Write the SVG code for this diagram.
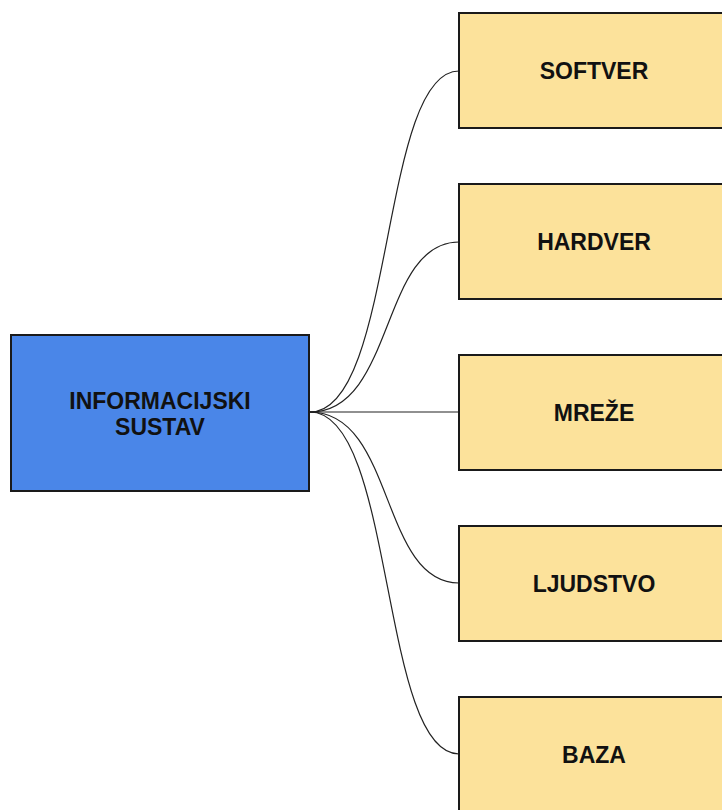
<svg xmlns="http://www.w3.org/2000/svg" width="722" height="810" viewBox="0 0 722 810">
<style>
.box{stroke:#1a1a1a;stroke-width:2}
.main{fill:#4a86e8}
.leaf{fill:#fce29b}
.t{font-family:"Liberation Sans",Arial,sans-serif;font-weight:bold;font-size:23px;fill:#111;text-anchor:middle}
.c{fill:none;stroke:#222;stroke-width:1.2}
</style>
<rect width="722" height="810" fill="#fff"/>
<g id="connectors">
<path class="c" d="M310 412 C395 412 380 71 459 71"/>
<path class="c" d="M310 412 C395 412 380 242 459 242"/>
<path class="c" d="M310 412 L459 412"/>
<path class="c" d="M310 412 C395 412 380 583 459 583"/>
<path class="c" d="M310 412 C395 412 380 754 459 754"/>
</g>
<g id="informacijski-sustav">
<rect class="box main" x="11" y="335" width="298" height="156"/>
<text class="t" x="160" y="409">INFORMACIJSKI</text>
<text class="t" x="160" y="435">SUSTAV</text>
</g>
<g id="softver">
<rect class="box leaf" x="459" y="13" width="272" height="115"/>
<text class="t" x="594" y="79">SOFTVER</text>
</g>
<g id="hardver">
<rect class="box leaf" x="459" y="184" width="272" height="115"/>
<text class="t" x="594" y="250">HARDVER</text>
</g>
<g id="mreze">
<rect class="box leaf" x="459" y="355" width="272" height="115"/>
<text class="t" x="594" y="421">MREŽE</text>
</g>
<g id="ljudstvo">
<rect class="box leaf" x="459" y="526" width="272" height="115"/>
<text class="t" x="594" y="592">LJUDSTVO</text>
</g>
<g id="baza">
<rect class="box leaf" x="459" y="697" width="272" height="125"/>
<text class="t" x="594" y="763">BAZA</text>
</g>
</svg>
